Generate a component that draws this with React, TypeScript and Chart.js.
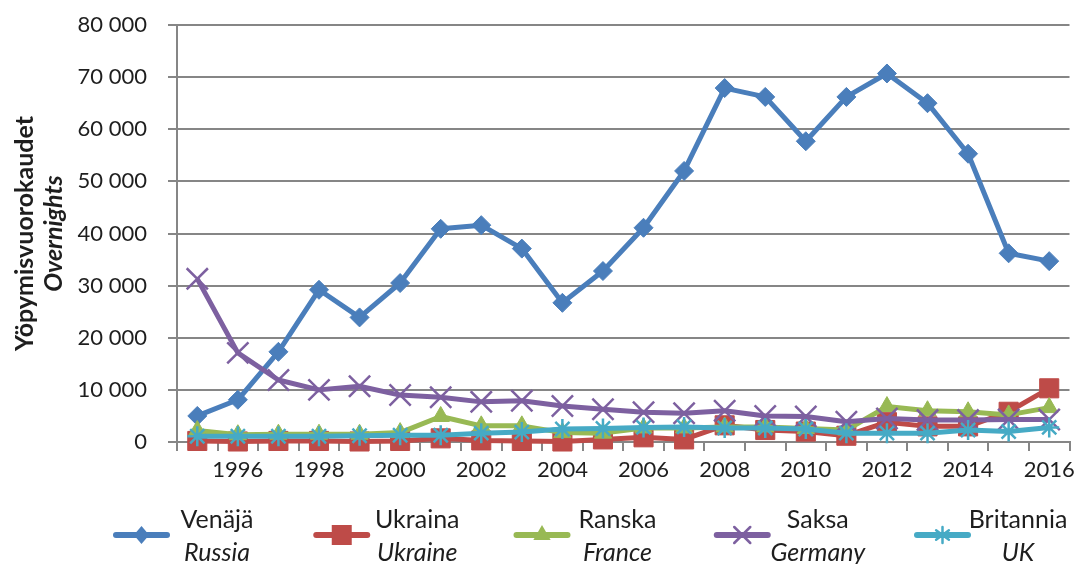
import React, { useEffect, useRef } from 'react';
import { Chart, registerables } from 'chart.js';

Chart.register(...registerables);

// ---- data ----
const years = ['1995', '1996', '1997', '1998', '1999', '2000', '2001', '2002', '2003', '2004', '2005',
  '2006', '2007', '2008', '2009', '2010', '2011', '2012', '2013', '2014', '2015', '2016'];

const russia = [5000, 8100, 17300, 29200, 23900, 30500, 40900, 41600, 37100, 26700, 32800,
  41100, 52000, 67900, 66200, 57700, 66200, 70700, 65000, 55300, 36200, 34700];
const ukraine = [200, 100, 200, 200, 100, 200, 700, 300, 200, 100, 500,
  900, 500, 3200, 2300, 2000, 1200, 3800, 3000, 3000, 5800, 10300];
const france = [2200, 1400, 1500, 1500, 1500, 1800, 4900, 3100, 3100, 1800, 1700,
  2700, 2700, 2900, 2900, 2600, 2300, 6800, 6000, 5800, 5200, 6600];
const germany = [31300, 17100, 11900, 10000, 10700, 9000, 8600, 7700, 7900, 6900, 6300,
  5700, 5500, 6000, 5000, 4900, 3900, 4500, 4200, 4200, 4300, 4300];
const uk = [1100, 1100, 1100, 1100, 1200, 1300, 1300, 1700, 1900, 2500, 2600,
  2800, 2900, 2700, 2700, 2500, 1700, 1700, 1700, 2300, 2000, 2800];

const seriesFi = ['Venäjä', 'Ukraina', 'Ranska', 'Saksa', 'Britannia'];
const seriesEn = ['Russia', 'Ukraine', 'France', 'Germany', 'UK'];
const yTitleFi = 'Yöpymisvuorokaudet';
const yTitleEn = 'Overnights';

const Y_MIN = 0;
const Y_MAX = 80000;
const Y_STEP = 10000;

// ---- styles ----
const colors = ['#4A7EBB', '#BE4B48', '#98B954', '#7D60A0', '#46AAC5'];
const pointStyles = ['rectRot', 'rect', 'triangle', 'crossRot', 'star'];
const pointRadii = [9.5, 13.5, 10, 15, 10];
const FONT = 'Lato';
const GRID = '#868686';
const TEXT = '#1e1e1e';

const W = 1087;
const H = 564;

function fmt(v: number) {
  return String(v).replace(/\B(?=(\d{3})+(?!\d))/g, ' ');
}

function drawMarker(ctx: CanvasRenderingContext2D, style: string, x: number, y: number, color: string) {
  ctx.save();
  ctx.fillStyle = color;
  ctx.strokeStyle = color;
  ctx.lineWidth = 2.5;
  ctx.beginPath();
  if (style === 'rectRot') {
    const r = 9;
    ctx.moveTo(x, y - r);
    ctx.lineTo(x + r * 0.85, y);
    ctx.lineTo(x, y + r);
    ctx.lineTo(x - r * 0.85, y);
    ctx.closePath();
    ctx.fill();
  } else if (style === 'rect') {
    const s = 10;
    ctx.rect(x - s, y - s, 2 * s, 2 * s);
    ctx.fill();
  } else if (style === 'triangle') {
    const r = 10;
    ctx.moveTo(x, y - r);
    ctx.lineTo(x + r * 0.866, y + r * 0.5);
    ctx.lineTo(x - r * 0.866, y + r * 0.5);
    ctx.closePath();
    ctx.fill();
  } else if (style === 'crossRot') {
    const r = 8;
    ctx.moveTo(x - r, y - r);
    ctx.lineTo(x + r, y + r);
    ctx.moveTo(x - r, y + r);
    ctx.lineTo(x + r, y - r);
    ctx.stroke();
  } else if (style === 'star') {
    const r = 8;
    ctx.moveTo(x, y - r);
    ctx.lineTo(x, y + r);
    ctx.moveTo(x - r * 0.8, y - r * 0.6);
    ctx.lineTo(x + r * 0.8, y + r * 0.6);
    ctx.moveTo(x - r * 0.8, y + r * 0.6);
    ctx.lineTo(x + r * 0.8, y - r * 0.6);
    ctx.stroke();
  }
  ctx.restore();
}

const decorPlugin = {
  id: 'decor',
  afterDraw(chart: any) {
    const ctx: CanvasRenderingContext2D = chart.ctx;
    const area = chart.chartArea;
    // y axis title (two lines, rotated)
    ctx.save();
    ctx.fillStyle = TEXT;
    ctx.translate(25, (area.top + area.bottom) / 2);
    ctx.rotate(-Math.PI / 2);
    ctx.textAlign = 'center';
    ctx.textBaseline = 'middle';
    ctx.font = `bold 25px ${FONT}`;
    ctx.fillText(yTitleFi, 0, 0);
    ctx.font = `italic bold 25px ${FONT}`;
    ctx.fillText(yTitleEn, 0, 29);
    ctx.restore();

    // legend
    const lineY = 535;
    const lineLen = 57;
    ctx.save();
    for (let i = 0; i < seriesFi.length; i++) {
      const x0 = 113 + i * 200.25;
      ctx.strokeStyle = colors[i];
      ctx.lineWidth = 6;
      ctx.lineCap = 'round';
      ctx.beginPath();
      ctx.moveTo(x0 + 3, lineY);
      ctx.lineTo(x0 + lineLen - 3, lineY);
      ctx.stroke();
      drawMarker(ctx, pointStyles[i], x0 + lineLen / 2, lineY, colors[i]);

      const cx = x0 + lineLen + 47;
      ctx.fillStyle = TEXT;
      ctx.textAlign = 'center';
      ctx.textBaseline = 'alphabetic';
      ctx.font = `25px ${FONT}`;
      ctx.fillText(seriesFi[i], cx, 528);
      ctx.font = `italic 25px ${FONT}`;
      ctx.fillText(seriesEn[i], cx, 561);
    }
    ctx.restore();
  },
};

export default function App() {
  const ref = useRef<HTMLCanvasElement | null>(null);

  useEffect(() => {
    if (!ref.current) return;
    const all = [russia, ukraine, france, germany, uk];
    const datasets = all.map((data, i) => ({
      label: seriesEn[i],
      data,
      borderColor: colors[i],
      backgroundColor: colors[i],
      borderWidth: 5,
      pointStyle: pointStyles[i] as any,
      pointRadius: pointRadii[i],
      pointBorderWidth: i >= 3 ? 2.5 : 1,
      pointBackgroundColor: colors[i],
      pointBorderColor: colors[i],
      tension: 0,
      borderJoinStyle: 'round' as const,
      clip: false as any,
      order: 5 - i,
    }));

    const chart = new Chart(ref.current, {
      type: 'line',
      data: { labels: years, datasets },
      plugins: [decorPlugin],
      options: {
        responsive: false,
        animation: false,
        devicePixelRatio: 1,
        layout: { padding: { left: 0, top: 25, right: 12, bottom: 72 } },
        plugins: {
          legend: { display: false },
          tooltip: { enabled: false },
          title: { display: false },
        },
        scales: {
          x: {
            type: 'category',
            offset: true,
            afterFit: (s: any) => { s.height = 50; },
            grid: {
              display: true,
              offset: true,
              drawOnChartArea: false,
              drawTicks: true,
              tickLength: 9,
              color: GRID,
              lineWidth: 2,
            },
            border: { display: true, color: GRID, width: 2 },
            ticks: {
              autoSkip: false,
              maxRotation: 0,
              minRotation: 0,
              padding: 6,
              color: TEXT,
              font: { family: FONT, size: 22 },
              callback: (_v: any, idx: number) => (Number(years[idx]) % 2 === 0 ? years[idx] : ''),
            },
          },
          y: {
            min: Y_MIN,
            max: Y_MAX,
            afterFit: (s: any) => {
              s.width = 177;
              s.paddingTop = 0;
              s.paddingBottom = 0;
            },
            grid: {
              color: GRID,
              lineWidth: 2,
              drawTicks: true,
              tickLength: 9,
            },
            border: { display: true, color: GRID, width: 2 },
            ticks: {
              stepSize: Y_STEP,
              padding: 21,
              color: TEXT,
              font: { family: FONT, size: 22 },
              callback: (v: any) => fmt(Number(v)),
            },
          },
        },
      },
    });
    return () => chart.destroy();
  }, []);

  return (
    <div style={{ position: 'absolute', left: 0, top: 0, width: W, height: H, background: '#fff' }}>
      <canvas ref={ref} width={W} height={H} style={{ display: 'block' }} />
    </div>
  );
}
